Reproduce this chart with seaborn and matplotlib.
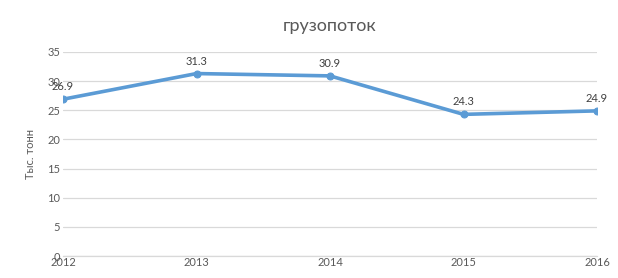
import matplotlib
matplotlib.use("Agg")
import matplotlib.pyplot as plt
import seaborn as sns
import pandas as pd

years = [2012, 2013, 2014, 2015, 2016]
values = [26.9, 31.3, 30.9, 24.3, 24.9]
title = "грузопоток"
ylabel = "Тыс. тонн"

sns.set_theme(style="white")
plt.rcParams['font.family'] = ['Lato', 'DejaVu Sans']

df = pd.DataFrame({"year": years, "value": values})

fig = plt.figure(figsize=(6.18, 2.78), dpi=100)
ax = fig.add_axes([0.102, 0.079, 0.864, 0.734])

color = "#5B9BD5"
grey = "#595959"
sns.lineplot(data=df, x="year", y="value", ax=ax, color=color, linewidth=2.6,
             marker="o", markersize=5, markeredgecolor=color, markerfacecolor=color)

ax.set_xlim(2012, 2016)
ax.set_ylim(0, 35)
ax.set_yticks([0, 5, 10, 15, 20, 25, 30, 35])
ax.set_xticks(years)
ax.set_xticklabels([str(y) for y in years])
ax.grid(axis="y", color="#D9D9D9", linewidth=0.9)
ax.grid(axis="x", visible=False)
ax.set_axisbelow(True)
for s in ["top", "right", "left"]:
    ax.spines[s].set_visible(False)
ax.spines["bottom"].set_color("#D9D9D9")
ax.spines["bottom"].set_linewidth(0.9)
ax.tick_params(axis="both", length=0, labelsize=8, colors=grey, pad=2)
ax.tick_params(axis="x", pad=1)
ax.set_xlabel("")
ax.set_ylabel(ylabel, fontsize=8, color=grey, labelpad=8)
ax.set_title(title, fontsize=13, color=grey, pad=15)

for x, v in zip(years, values):
    ax.annotate(f"{v}", (x, v), xytext=(0, 5), textcoords="offset points",
                ha="center", va="bottom", fontsize=8, color="#404040")

fig.savefig("out.png", dpi=100)
